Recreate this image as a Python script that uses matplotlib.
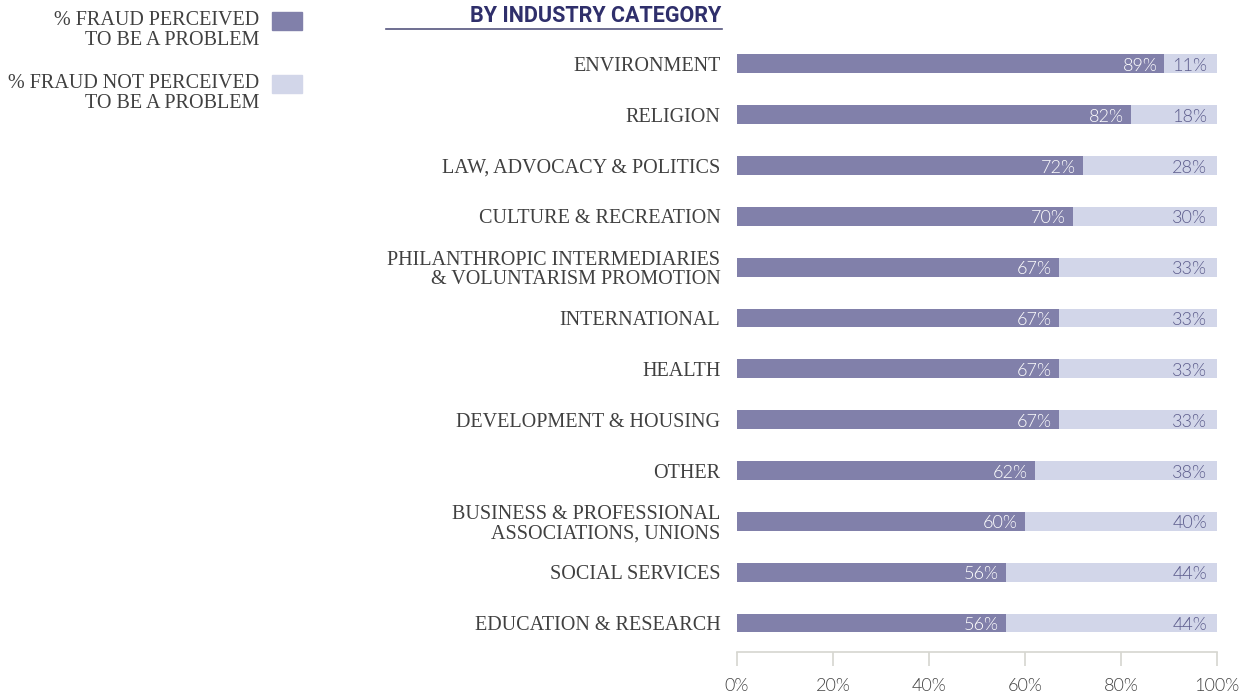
import matplotlib.pyplot as plt
from matplotlib.patches import Rectangle
from matplotlib.lines import Line2D

# данные
categories = [
    "ENVIRONMENT",
    "RELIGION",
    "LAW, ADVOCACY & POLITICS",
    "CULTURE & RECREATION",
    "PHILANTHROPIC INTERMEDIARIES\n& VOLUNTARISM PROMOTION",
    "INTERNATIONAL",
    "HEALTH",
    "DEVELOPMENT & HOUSING",
    "OTHER",
    "BUSINESS & PROFESSIONAL\nASSOCIATIONS, UNIONS",
    "SOCIAL SERVICES",
    "EDUCATION & RESEARCH",
]
perceived = [89, 82, 72, 70, 67, 67, 67, 67, 62, 60, 56, 56]
not_perceived = [11, 18, 28, 30, 33, 33, 33, 33, 38, 40, 44, 44]
ticks = [0, 20, 40, 60, 80, 100]

DARK = "#8180aa"
LIGHT = "#d2d6e9"
NAVY = "#2f2f6b"
TEXT = "#404040"
AXIS = "#d6d6d0"

label_font = ["Liberation Serif", "DejaVu Serif"]
num_font = ["Lato", "DejaVu Sans"]
NUM_W = 300  # Lato Light

fig = plt.figure(figsize=(12.55, 6.99), dpi=100)
ax = fig.add_axes([737 / 1255, 1 - 652 / 699, 480 / 1255, 612 / 699])

y = list(range(len(categories)))
ax.barh(y, perceived, height=0.37, color=DARK)
ax.barh(y, not_perceived, left=perceived, height=0.37, color=LIGHT)

for i, (p, n) in enumerate(zip(perceived, not_perceived)):
    ax.annotate(f"{p}%", (p, i), xytext=(-5, -1.5), textcoords="offset points",
                ha="right", va="center", color="white", fontsize=13,
                family=num_font, fontweight=NUM_W)
    ax.annotate(f"{n}%", (100, i), xytext=(-7, -1.5), textcoords="offset points",
                ha="right", va="center", color="#5c5c8c", fontsize=13,
                family=num_font, fontweight=NUM_W)

ax.set_xlim(0, 100)
ax.set_ylim(11.57, -0.47)
ax.set_yticks(y)
ax.set_yticklabels(categories, family=label_font, fontsize=14.5, color=TEXT,
                   linespacing=1.05)
ax.tick_params(axis="y", length=0, pad=12)
ax.set_xticks(ticks)
ax.set_xticklabels([f"{t}%" for t in ticks], family=num_font, fontsize=13,
                   color="#444444", fontweight=NUM_W)
ax.tick_params(axis="x", direction="out", length=10, width=1.2, color=AXIS, pad=9)
for s in ["top", "right", "left"]:
    ax.spines[s].set_visible(False)
ax.spines["bottom"].set_color(AXIS)
ax.spines["bottom"].set_linewidth(1.2)

# заголовок с линией
fig.text(721 / 1255, 1 - 16 / 699, "BY INDUSTRY CATEGORY", ha="right", va="center",
         color=NAVY, fontsize=15.5, fontweight="bold", family=["Roboto", "DejaVu Sans"],
         fontstretch="condensed")
fig.add_artist(Line2D([386 / 1255, 722 / 1255], [1 - 29 / 699, 1 - 29 / 699],
                      color="#55557e", lw=1.2))

# легенда
legend_items = [
    ("% FRAUD PERCEIVED\nTO BE A PROBLEM", DARK, 12),
    ("% FRAUD NOT PERCEIVED\nTO BE A PROBLEM", LIGHT, 75),
]
for text, color, top in legend_items:
    fig.add_artist(Rectangle((272 / 1255, 1 - (top + 18) / 699), 30 / 1255, 18 / 699,
                             color=color, transform=fig.transFigure))
    fig.text(259 / 1255, 1 - (top - 1) / 699, text, ha="right", va="top",
             family=label_font, fontsize=14.5, color=TEXT, linespacing=1.05)

fig.savefig("out.png", dpi=100)
